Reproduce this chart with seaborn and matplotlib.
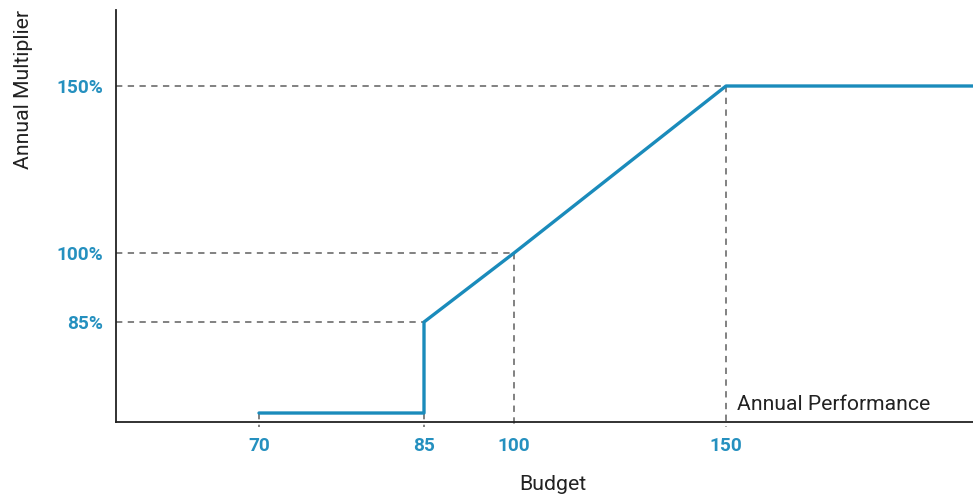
import numpy as np
import seaborn as sns
import matplotlib.pyplot as plt

# data
budget = [70, 85, 85, 100, 150, 208]
multiplier = [0, 0, 85, 100, 150, 150]
x_ticks = [70, 85, 100, 150]
x_labels = ["70", "85", "100", "150"]
y_ticks = [85, 100, 150]
y_labels = ["85%", "100%", "150%"]

# axis is not linear in the original, so use a piecewise scale
x_knots = [57, 70, 85, 100, 150, 208]
x_pos = [0, 143, 308, 398, 610, 857]
y_knots = [-13, 0, 85, 100, 150, 173]
y_pos = [-5.6, 9, 100, 169, 336, 412]

def fx(v):
    return np.interp(v, x_knots, x_pos)
def ix(v):
    return np.interp(v, x_pos, x_knots)
def fy(v):
    return np.interp(v, y_knots, y_pos)
def iy(v):
    return np.interp(v, y_pos, y_knots)

sns.set_style("white")
plt.rcParams['font.family'] = ['Roboto', 'DejaVu Sans']

blue = "#1a8bbb"
lbl_blue = "#2590bf"
grey = "#777777"

fig = plt.figure(figsize=(9.73, 4.97), dpi=100)
ax = fig.add_axes([116/973, 75/497, 857/973, 412/497])
ax.set_xscale('function', functions=(fx, ix))
ax.set_yscale('function', functions=(fy, iy))
ax.set_xlim(57, 208)
ax.set_ylim(-8, 173)

# dashed guides
dash = dict(color=grey, lw=1.3, ls=(0, (3.5, 3)), zorder=1)
for yv, xv in zip(y_ticks, [85, 100, 150]):
    ax.plot([57, xv], [yv, yv], **dash)
for xv, yv in zip(x_ticks, [0, 0, 100, 150]):
    ax.plot([xv, xv], [yv, -12.5], clip_on=False, **dash)

sns.lineplot(x=budget, y=multiplier, sort=False, estimator=None, color=blue, lw=2.4, ax=ax, zorder=3)

ax.set_xticks(x_ticks)
ax.set_xticklabels(x_labels)
ax.set_yticks(y_ticks)
ax.set_yticklabels(y_labels)
ax.minorticks_off()
ax.tick_params(axis='both', length=0, labelsize=13.7, labelcolor=lbl_blue)
ax.tick_params(axis='x', pad=11)
ax.tick_params(axis='y', pad=9)
for t in ax.get_xticklabels() + ax.get_yticklabels():
    t.set_fontweight('bold')

ax.set_xlabel("Budget", fontsize=15.3, color="#222222")
ax.xaxis.set_label_coords(0.51, -0.128)
ax.set_ylabel("Annual Multiplier", fontsize=15.3, color="#222222", loc='top')
ax.yaxis.set_label_coords(-0.097, 1.0)

ax.annotate("Annual Performance", xy=(150, -8), xytext=(8, 6), textcoords='offset points',
            fontsize=15.2, color="#222222", va='bottom', ha='left')

for s in ['top', 'right']:
    ax.spines[s].set_visible(False)
for s in ['left', 'bottom']:
    ax.spines[s].set_color("#222222")
    ax.spines[s].set_linewidth(1.3)

plt.savefig("out.png", dpi=100)
